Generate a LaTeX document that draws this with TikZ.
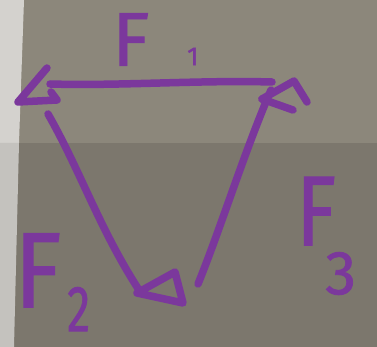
\documentclass[tikz,border=0pt]{standalone}
\usepackage{fontspec}
\newfontfamily\hand{Fira Sans}[FakeBold=1.2]
\definecolor{ink}{HTML}{7B389C}
\definecolor{bgup}{HTML}{8C877B}
\definecolor{bglow}{HTML}{7C776D}
\definecolor{strip}{HTML}{D4D2CE}
\definecolor{striplow}{HTML}{C4C2BE}
\tikzset{
  pen/.style={draw=ink, line width=7.5pt, line cap=round, line join=round},
  lbl/.style={text=ink, inner sep=0pt, anchor=north west, text depth=0pt},
}
\newcommand{\fsz}[1]{\hand\fontsize{#1}{#1}\selectfont}
\begin{document}
\begin{tikzpicture}[x=1pt, y=-1pt]
\useasboundingbox (0,0) rectangle (377,347);
% background
\fill[bgup] (0,0) rectangle (377,143);
\fill[bglow] (0,143) rectangle (377,347);
\fill[strip] (0,0) -- (24,0) -- (19,143) -- (0,143) -- cycle;
\fill[striplow] (0,143) -- (19,143) -- (14,347) -- (0,347) -- cycle;
% corner points
\coordinate (A) at (50,84);
\coordinate (B) at (272,82);
\coordinate (C) at (139,290);
% F1 line with left arrowhead
\draw[pen] (B) .. controls (200,80) and (120,86) .. (A);
\draw[pen] (47,68) -- (18,102) -- (57,100) -- (51,92);
% F2 line with bottom arrowhead
\draw[pen] (48,114) .. controls (80,170) and (100,230) .. (C);
\draw[pen] (137,293) -- (175,272) -- (183,303) -- cycle;
% F3 line with top-right arrowhead
\draw[pen] (198,284) .. controls (220,230) and (245,150) .. (271,90);
\draw[pen] (262,99) -- (294,81) -- (307,102);
\draw[pen] (262,99) -- (293,110);
% labels
\node[lbl, font=\fsz{76}, text height=52.4pt] (f1) at (112,13) {F};
\node[lbl, font=\fsz{26}, text height=18pt] (s1) at (187,47) {1};
\node[lbl, font=\fsz{107}, text height=74pt] (f2) at (14,233) {\scalebox{0.9}[1]{F}};
\node[lbl, font=\fsz{58}, text height=45pt] (s2) at (67,286) {\scalebox{0.8}[1.12]{2}};
\node[lbl, font=\fsz{99}, text height=68pt] (f3) at (296,177) {\scalebox{0.82}[1]{F}};
\node[lbl, font=\fsz{62}, text height=43pt] (s3) at (325,251) {3};
\end{tikzpicture}
\end{document}
